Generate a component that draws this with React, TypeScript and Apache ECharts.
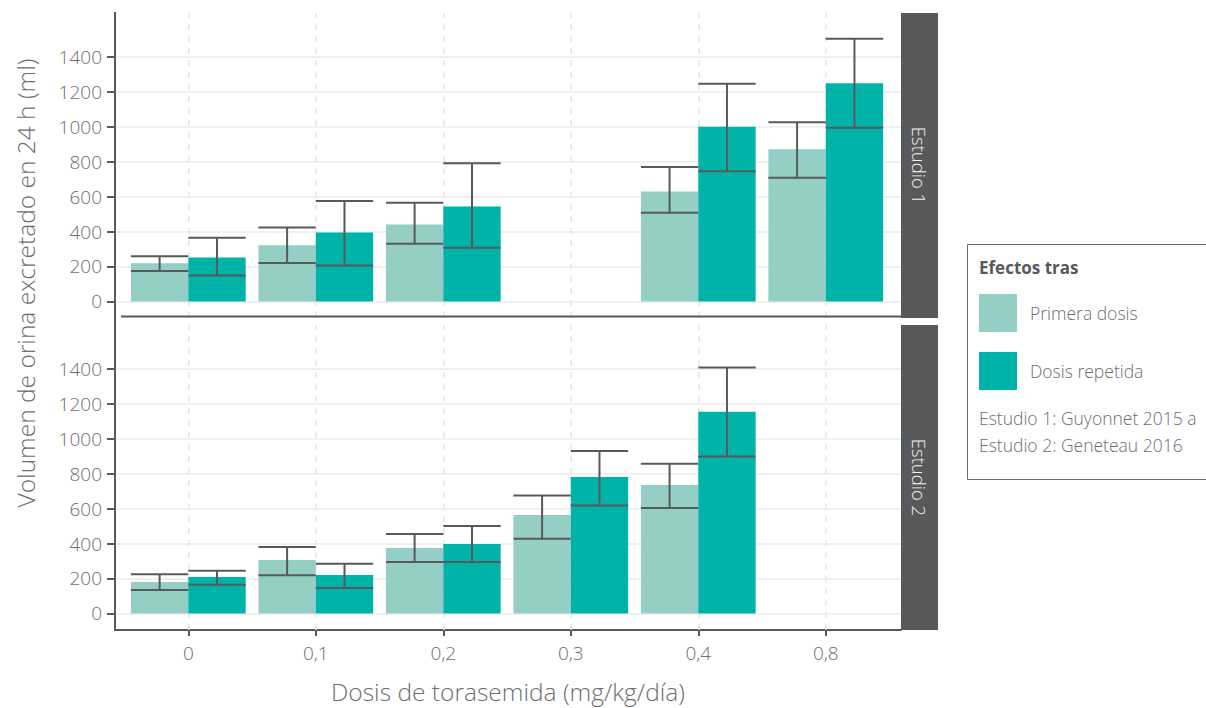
import React, { useEffect, useRef } from "react";
import * as echarts from "echarts";

// Dose categories (mg/kg/día)
const doses = ["0", "0,1", "0,2", "0,3", "0,4", "0,8"];
const yTicks = [0, 200, 400, 600, 800, 1000, 1200, 1400];

// Estudio 1 (Guyonnet 2015 a)
const primera1 = [218, 321, 441, null, 630, 871];
const primera1Low = [174, 220, 330, null, 508, 709];
const primera1High = [258, 424, 565, null, 770, 1026];
const repetida1 = [252, 395, 544, null, 1000, 1250];
const repetida1Low = [149, 206, 308, null, 745, 995];
const repetida1High = [365, 575, 791, null, 1247, 1505];

// Estudio 2 (Geneteau 2016)
const primera2 = [180, 306, 375, 564, 736, null];
const primera2Low = [134, 218, 295, 428, 604, null];
const primera2High = [224, 381, 455, 675, 857, null];
const repetida2 = [208, 220, 398, 782, 1155, null];
const repetida2Low = [164, 145, 295, 618, 899, null];
const repetida2High = [245, 285, 501, 931, 1408, null];

const C_PRIMERA = "#95cec5";
const C_REPETIDA = "#00b3a9";
const C_DARK = "#58595b";
const C_TEXT = "#6d6e71";
const FONT = '"Open Sans", "Noto Sans", sans-serif';

const X_MIN = -0.575;
const X_MAX = 5.59;
const Y_MIN = -95;
const Y_MAX = 1652;
const PANEL_LEFT = 115;
const PANEL_W = 786;
const PANEL_H = 305;
const TOP1 = 13;
const TOP2 = 325;
const BAR_FRACTION = 0.45;
const BAR_W = (PANEL_W / (X_MAX - X_MIN)) * BAR_FRACTION;

const toPairs = (vals: (number | null)[]) =>
  vals.map((v, i) => (v == null ? null : [i, v])).filter((d) => d !== null);

const toErr = (lo: (number | null)[], hi: (number | null)[]) =>
  lo.map((l, i) => (l == null ? null : [i, l, hi[i]])).filter((d) => d !== null);

function barSeries(name: string, color: string, vals: (number | null)[], idx: number) {
  return {
    type: "bar",
    name,
    xAxisIndex: idx,
    yAxisIndex: idx,
    data: toPairs(vals),
    barWidth: BAR_W,
    barGap: "0%",
    itemStyle: { color },
    z: 2,
  };
}

function errSeries(lo: (number | null)[], hi: (number | null)[], idx: number, side: number) {
  return {
    type: "custom",
    xAxisIndex: idx,
    yAxisIndex: idx,
    data: toErr(lo, hi),
    encode: { x: 0, y: [1, 2] },
    z: 3,
    silent: true,
    renderItem: (params: any, api: any) => {
      const x = api.value(0);
      const pLo = api.coord([x, api.value(1)]);
      const pHi = api.coord([x, api.value(2)]);
      const bw = api.size([1, 0])[0] * BAR_FRACTION;
      const cx = pLo[0] + (side * bw) / 2;
      const style = { stroke: C_DARK, lineWidth: 2 };
      return {
        type: "group",
        children: [
          { type: "line", shape: { x1: cx, y1: pLo[1], x2: cx, y2: pHi[1] }, style },
          { type: "line", shape: { x1: cx - bw / 2, y1: pHi[1], x2: cx + bw / 2, y2: pHi[1] }, style },
          { type: "line", shape: { x1: cx - bw / 2, y1: pLo[1], x2: cx + bw / 2, y2: pLo[1] }, style },
        ],
      };
    },
  };
}

function gridLineSeries(idx: number) {
  return {
    type: "line",
    xAxisIndex: idx,
    yAxisIndex: idx,
    data: [],
    silent: true,
    markLine: {
      silent: true,
      symbol: "none",
      z: 1,
      label: { show: false },
      animation: false,
      data: [
        ...yTicks.map((v) => ({ yAxis: v, lineStyle: { color: "#ebebeb", width: 1.5, type: "solid" } })),
        ...doses.map((_, i) => ({ xAxis: i, lineStyle: { color: "#e6e6e6", width: 1.5, type: [6, 6] } })),
      ],
    },
  };
}

function xAxisFor(idx: number, bottom: boolean) {
  return {
    gridIndex: idx,
    type: "value",
    min: X_MIN,
    max: X_MAX,
    splitLine: { show: false },
    axisLine: { show: bottom, onZero: false, lineStyle: { color: C_DARK, width: 2 } },
    axisTick: {
      show: bottom,
      customValues: doses.map((_, i) => i),
      length: 6,
      lineStyle: { color: C_DARK, width: 2 },
    },
    axisLabel: {
      show: bottom,
      customValues: doses.map((_, i) => i),
      formatter: (v: number) => doses[Math.round(v)] ?? "",
      fontSize: 19,
      color: C_TEXT,
      fontFamily: FONT,
      fontWeight: 300,
      margin: 13,
    },
    name: bottom ? "Dosis de torasemida (mg/kg/día)" : "",
    nameLocation: "middle",
    nameGap: 49,
    nameTextStyle: { fontSize: 24.5, color: C_TEXT, fontFamily: FONT, fontWeight: 300 },
  };
}

function yAxisFor(idx: number) {
  return {
    gridIndex: idx,
    type: "value",
    min: Y_MIN,
    max: Y_MAX,
    splitLine: { show: false },
    axisLine: { show: false, onZero: false },
    axisTick: { show: true, customValues: yTicks, length: 8, lineStyle: { color: C_DARK, width: 2 } },
    axisLabel: {
      customValues: yTicks,
      formatter: (v: number) => String(v),
      fontSize: 19,
      color: C_TEXT,
      fontFamily: FONT,
      fontWeight: 300,
      margin: 13,
    },
  };
}

function strip(top: number, label: string) {
  return [
    { type: "rect", shape: { x: 901, y: top, width: 37, height: PANEL_H }, style: { fill: C_DARK }, z: 10 },
    {
      type: "text",
      x: 919.5,
      y: top + PANEL_H / 2,
      rotation: -Math.PI / 2,
      z: 11,
      style: {
        text: label,
        fill: "#f2f2f2",
        fontSize: 18.5,
        fontFamily: FONT,
        fontWeight: 300,
        align: "center",
        verticalAlign: "middle",
      },
    },
  ];
}

export default function App() {
  const ref = useRef<HTMLDivElement>(null);

  useEffect(() => {
    if (!ref.current) return;
    const chart = echarts.init(ref.current, undefined, { renderer: "svg" });
    chart.setOption({
      animation: false,
      backgroundColor: "#ffffff",
      textStyle: { fontFamily: FONT },
      grid: [
        { left: PANEL_LEFT, top: TOP1, width: PANEL_W, height: PANEL_H },
        { left: PANEL_LEFT, top: TOP2, width: PANEL_W, height: PANEL_H },
      ],
      xAxis: [xAxisFor(0, false), xAxisFor(1, true)],
      yAxis: [yAxisFor(0), yAxisFor(1)],
      legend: {
        data: ["Primera dosis", "Dosis repetida"],
        orient: "vertical",
        left: 979,
        top: 294,
        padding: 0,
        icon: "rect",
        itemWidth: 38,
        itemHeight: 38,
        itemGap: 20,
        selectedMode: false,
        textStyle: { fontSize: 17.5, color: C_TEXT, fontFamily: FONT, fontWeight: 300, padding: [0, 0, 0, 8] },
      },
      series: [
        gridLineSeries(0),
        gridLineSeries(1),
        barSeries("Primera dosis", C_PRIMERA, primera1, 0),
        barSeries("Dosis repetida", C_REPETIDA, repetida1, 0),
        barSeries("Primera dosis", C_PRIMERA, primera2, 1),
        barSeries("Dosis repetida", C_REPETIDA, repetida2, 1),
        errSeries(primera1Low, primera1High, 0, -1),
        errSeries(repetida1Low, repetida1High, 0, 1),
        errSeries(primera2Low, primera2High, 1, -1),
        errSeries(repetida2Low, repetida2High, 1, 1),
      ],
      graphic: [
        // continuous y axis line across both panels
        { type: "line", shape: { x1: 115, y1: 12, x2: 115, y2: 631 }, style: { stroke: C_DARK, lineWidth: 2 }, z: 5 },
        // base line of the upper panel
        { type: "line", shape: { x1: 121, y1: 316.5, x2: 901, y2: 316.5 }, style: { stroke: C_DARK, lineWidth: 2 }, z: 5 },
        ...strip(TOP1, "Estudio 1"),
        ...strip(TOP2, "Estudio 2"),
        {
          type: "text",
          x: 25,
          y: 283,
          rotation: Math.PI / 2,
          style: {
            text: "Volumen de orina excretado en 24 h (ml)",
            fill: C_TEXT,
            fontSize: 24.5,
            fontFamily: FONT,
            fontWeight: 300,
            align: "center",
            verticalAlign: "middle",
          },
        },
        {
          type: "rect",
          shape: { x: 967.5, y: 244.5, width: 260, height: 235 },
          style: { fill: "none", stroke: C_TEXT, lineWidth: 1 },
        },
        {
          type: "text",
          x: 979,
          y: 267,
          style: {
            text: "Efectos tras",
            fill: C_DARK,
            fontSize: 17,
            fontWeight: "bold",
            fontFamily: FONT,
            verticalAlign: "middle",
          },
        },
        {
          type: "text",
          x: 979,
          y: 418,
          style: { text: "Estudio 1: Guyonnet 2015 a", fill: C_TEXT, fontSize: 17.5, fontFamily: FONT, fontWeight: 300, verticalAlign: "middle" },
        },
        {
          type: "text",
          x: 979,
          y: 445,
          style: { text: "Estudio 2: Geneteau 2016", fill: C_TEXT, fontSize: 17.5, fontFamily: FONT, fontWeight: 300, verticalAlign: "middle" },
        },
      ],
    });
    return () => chart.dispose();
  }, []);

  return (
    <div
      ref={ref}
      style={{ position: "fixed", left: 0, top: 0, width: 1206, height: 708, background: "#fff" }}
    />
  );
}
